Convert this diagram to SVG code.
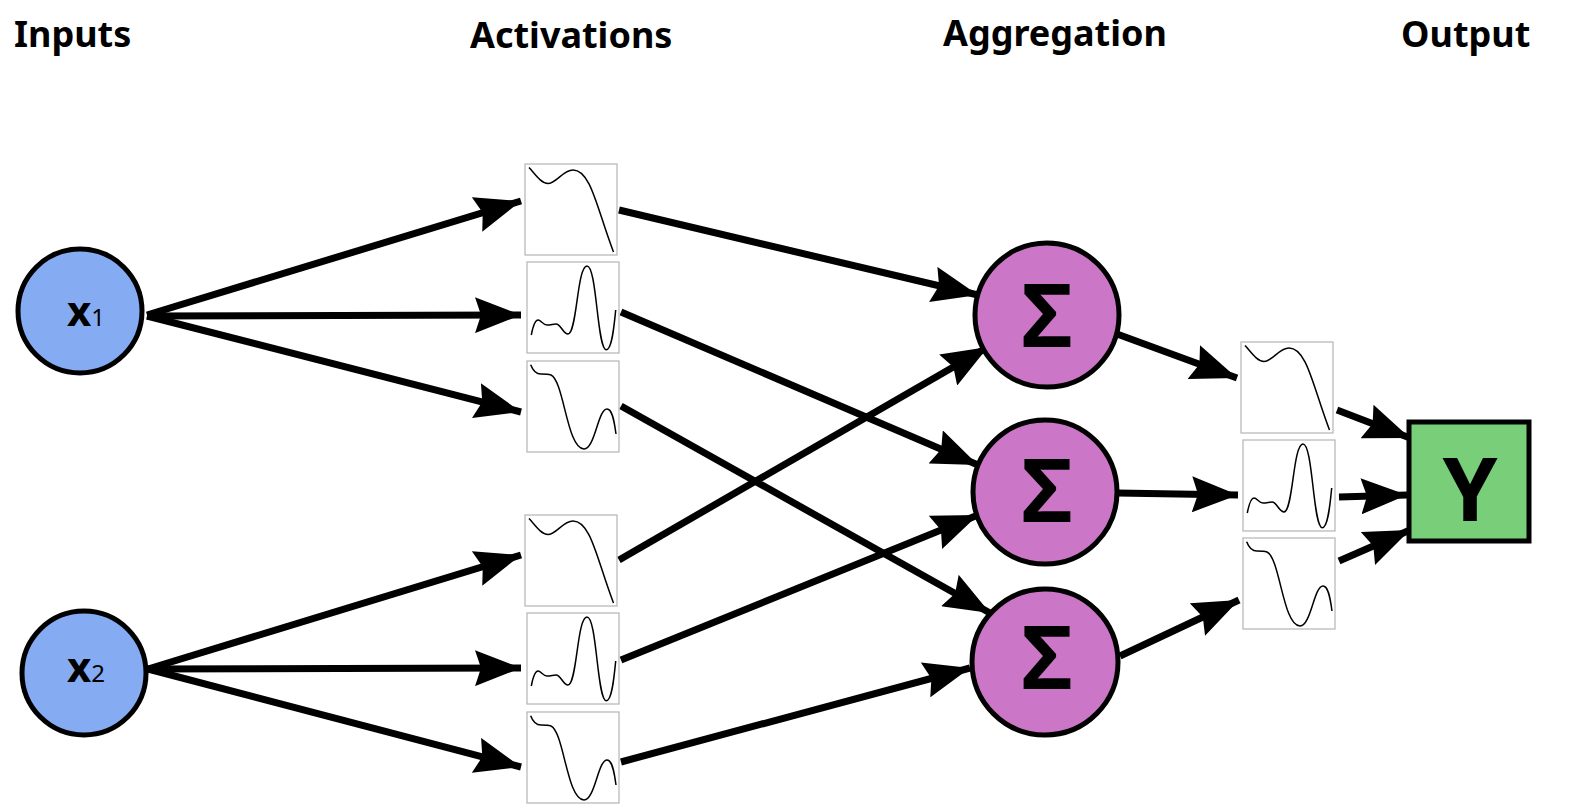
<svg xmlns="http://www.w3.org/2000/svg" xmlns:xlink="http://www.w3.org/1999/xlink" width="1572" height="810" viewBox="0 0 1572 810">
<style>
.t{font-family:"Noto Sans","DejaVu Sans",sans-serif;font-weight:700;fill:#000}
.title{font-size:36px}
.in{fill:#85abf3;stroke:#000;stroke-width:5}
.ag{fill:#cb76c6;stroke:#000;stroke-width:5}
.out{fill:#79cf79;stroke:#000;stroke-width:5}
.box{fill:#fff;stroke:#b5b5b5;stroke-width:1.2}
.cv{fill:none;stroke:#000;stroke-width:1.5}
.sym{font-size:88px;text-anchor:middle}
.con line{stroke:#000;stroke-width:7;marker-end:url(#ah)}
</style>
<defs>
<marker id="ah" markerUnits="userSpaceOnUse" markerWidth="46" markerHeight="36" viewBox="0 0 46 36" refX="46" refY="18" orient="auto"><path d="M0 0L46 18L0 36L6 18Z" fill="#000"/></marker>
<g id="fa"><rect class="box" width="92" height="91"/><path class="cv" d="M4 3.5C10 10 16 19.5 23 19.5C31 19.5 38 6 48 6C66 6 72 45 88.5 88"/></g>
<g id="fb"><rect class="box" width="92" height="91"/><path class="cv" d="M4.3 73C6 64 8 58 11 58C14 58 16 63 20 63C24 63 26 62 29 62C34 62 36 72 41 72C50 72 50 4 60 4C70 4 70 87.700 79.300 87.700C85 87.700 87 65 88.700 48"/></g>
<g id="fc"><rect class="box" width="92" height="91"/><path class="cv" d="M3.700 3.700C6 10 9 13 14 13C18 13 21 13 24 14C37 20 40 88 57 88C68 88 71 48 80 48C85 48 87 58 89 73"/></g>
</defs>
<rect width="1572" height="810" fill="#fff"/>
<g id="titles">
<text class="t title" x="14" y="47">Inputs</text>
<text class="t title" x="470" y="48">Activations</text>
<text class="t title" x="943" y="46">Aggregation</text>
<text class="t title" x="1401" y="47">Output</text>
</g>
<g id="connectors" class="con">
<line x1="147" y1="315" x2="521" y2="201"/>
<line x1="147" y1="316" x2="521" y2="315"/>
<line x1="147" y1="316" x2="521" y2="412"/>
<line x1="148" y1="669" x2="521" y2="555"/>
<line x1="148" y1="669" x2="521" y2="668"/>
<line x1="148" y1="669" x2="521" y2="767"/>
<line x1="619" y1="210" x2="978" y2="295"/>
<line x1="621" y1="312" x2="978" y2="465"/>
<line x1="621" y1="406" x2="990" y2="613"/>
<line x1="619" y1="560" x2="988" y2="347"/>
<line x1="621" y1="660" x2="978" y2="515"/>
<line x1="621" y1="762" x2="970" y2="668"/>
<line x1="1117" y1="334" x2="1237" y2="378"/>
<line x1="1117" y1="493" x2="1238" y2="495"/>
<line x1="1120" y1="656" x2="1239" y2="600"/>
<line x1="1337" y1="410" x2="1410" y2="438"/>
<line x1="1339" y1="497" x2="1407" y2="495"/>
<line x1="1339" y1="561" x2="1410" y2="530"/>
</g>
<g id="x1"><circle class="in" cx="80" cy="311" r="62"/><text class="t" x="67" y="326" font-size="42">x<tspan font-size="24" font-weight="400">1</tspan></text></g>
<g id="x2"><circle class="in" cx="84" cy="673" r="62"/><text class="t" x="67" y="682" font-size="42">x<tspan font-size="24" font-weight="400">2</tspan></text></g>
<use id="f11" href="#fa" x="525" y="164"/>
<use id="f12" href="#fb" x="527" y="262"/>
<use id="f13" href="#fc" x="527" y="361"/>
<use id="f21" href="#fa" x="525" y="515"/>
<use id="f22" href="#fb" x="527" y="613"/>
<use id="f23" href="#fc" x="527" y="712"/>
<g id="s1"><circle class="ag" cx="1047" cy="315" r="72"/><text class="t sym" x="1047" y="347">Σ</text></g>
<g id="s2"><circle class="ag" cx="1045" cy="492" r="72"/><text class="t sym" x="1047" y="522">Σ</text></g>
<g id="s3"><circle class="ag" cx="1045" cy="662" r="73"/><text class="t sym" x="1047" y="689">Σ</text></g>
<use id="g1" href="#fa" x="1241" y="342"/>
<use id="g2" href="#fb" x="1243" y="440"/>
<use id="g3" href="#fc" x="1243" y="538"/>
<g id="y"><rect class="out" x="1409" y="422" width="120" height="119"/><text class="t sym" x="1470" y="521">Y</text></g>
</svg>
